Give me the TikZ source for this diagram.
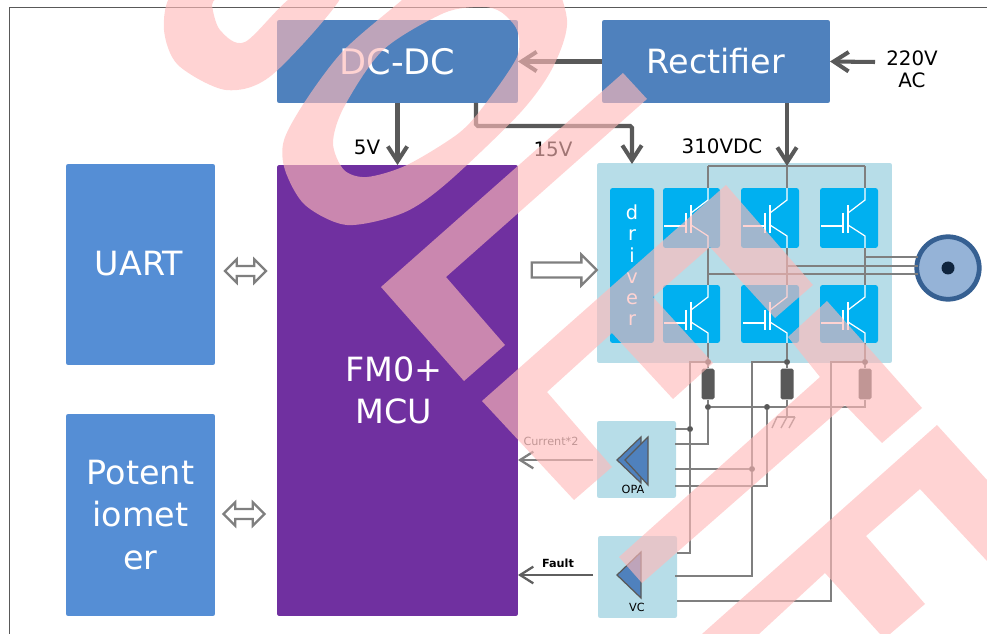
\documentclass[tikz,border=0pt]{standalone}
\usepackage{fontspec}
\setmainfont{DejaVu Sans}
\usepackage{tikz}
\usetikzlibrary{arrows.meta,calc,shapes,positioning}
\usepackage{xcolor}
\definecolor{Supply}{RGB}{79,129,189}
\definecolor{Periph}{RGB}{85,142,213}
\definecolor{Mcu}{RGB}{112,48,160}
\definecolor{Panel}{RGB}{183,221,232}
\definecolor{Tile}{RGB}{0,176,240}
\definecolor{Lead}{RGB}{89,89,89}
\definecolor{Wire}{RGB}{127,127,127}
\definecolor{MotorFill}{RGB}{149,179,215}
\definecolor{MotorRim}{RGB}{54,96,146}
\definecolor{MotorDot}{RGB}{15,36,62}
\definecolor{Overlay}{RGB}{255,186,185}
\tikzset{
  block/.style={rectangle,rounded corners=1.2pt,inner sep=0pt,outer sep=0pt,text=white,align=center,font=\fontsize{19}{24.2}\selectfont},
  tile/.style={rectangle,rounded corners=1.5pt,fill=Tile,inner sep=0pt,outer sep=0pt},
  lab/.style={inner sep=0pt,align=center,font=\fontsize{11.3}{12.6}\selectfont},
  tiny/.style={inner sep=0pt,font=\fontsize{6.4}{7}\selectfont},
  power/.style={draw=Lead,line width=2.3pt,-{Straight Barb[length=8.5pt,width=11pt,line width=2.3pt]}},
  signal/.style={draw=Wire,line width=1.2pt,-{Straight Barb[length=7.5pt,width=9.5pt,line width=1.3pt]}},
  wire/.style={draw=Wire,line width=0.8pt},
  jdot/.style={circle,fill=Lead,inner sep=0pt,minimum size=3.4pt},
  res/.style={rectangle,rounded corners=1pt,fill=Lead,inner sep=0pt,minimum width=0.26cm,minimum height=0.62cm},
  hollow/.style={draw=Wire,fill=white,line width=1.3pt},
  amp/.style={draw=Lead,fill=Supply,line width=0.7pt},
  cover/.style={fill=Overlay,fill opacity=0.63}
}
\newcommand{\igbt}[2]{
\begin{scope}[shift={(#1,#2)},draw=white,line width=0.7pt]
\draw (-44,38) -- (-22,38);
\draw (-22,25) -- (-22,45);
\draw (-17,17) -- (-17,45);
\draw (0,0) -- (0,12) -- (-17,25);
\draw (-17,37) -- (0,48) -- (0,60);
\end{scope}
}
\begin{document}
\begin{tikzpicture}[x=0.02cm,y=-0.02cm]
\useasboundingbox (0,0) rectangle (987,634);
\draw[color=Lead,line width=0.9pt] (9.5,634) -- (9.5,7.5) -- (987,7.5);
%
% supply row
\node[block,fill=Supply,minimum width=4.82cm,minimum height=1.66cm,font=\fontsize{20}{24.2}\selectfont] (dcdc) at (397.5,61.5) {DC-DC};
\node[block,fill=Supply,minimum width=4.56cm,minimum height=1.66cm] (rect) at (716,61.5) {Rectifier};
\node[block,fill=Periph,minimum width=2.98cm,minimum height=4.02cm] (uart) at (140.5,264.5) {};
\node[block] (uarttxt) at (139,263.5) {UART};
\node[block,fill=Periph,minimum width=2.98cm,minimum height=4.04cm] (pot) at (140.5,515) {Potent\\iomet\\er};
\node[block,fill=Mcu,minimum width=4.82cm,minimum height=9.02cm] (mcu) at (397.5,390.5) {};
\node[block] (mcutxt) at (394,390.5) {FM0+\\MCU};
%
% inverter
\node[block,fill=Panel,minimum width=5.9cm,minimum height=4cm] (inv) at (744.5,263) {};
\node[tile,minimum width=0.88cm,minimum height=3.1cm,text=white,align=center,font=\fontsize{11}{12.1}\selectfont] (drv) at (632,265.5) {d\\r\\i\\v\\e\\r};
\node[tile,minimum width=1.14cm,minimum height=1.2cm] (q1) at (691.5,218) {};
\node[tile,minimum width=1.16cm,minimum height=1.2cm] (q2) at (770,218) {};
\node[tile,minimum width=1.16cm,minimum height=1.2cm] (q3) at (849,218) {};
\node[tile,minimum width=1.14cm,minimum height=1.16cm] (q4) at (691.5,314) {};
\node[tile,minimum width=1.16cm,minimum height=1.16cm] (q5) at (770,314) {};
\node[tile,minimum width=1.16cm,minimum height=1.16cm] (q6) at (849,314) {};
\igbt{708}{188}
\igbt{787}{188}
\igbt{865}{188}
\igbt{708}{285}
\igbt{787}{285}
\igbt{865}{285}
%
\coordinate (bus1) at (708,166);
\coordinate (bus2) at (787,166);
\coordinate (bus3) at (865,166);
\coordinate (ph1) at (708,274);
\coordinate (ph2) at (787,266);
\coordinate (ph3) at (865,257);
\node[circle,draw=MotorRim,fill=MotorFill,line width=2.7pt,inner sep=0pt,minimum size=1.25cm] (motor) at (948,268) {};
\node[circle,fill=MotorDot,inner sep=0pt,minimum size=0.26cm] (rotor) at (948,268) {};
\draw[wire] (bus1) -- (bus3);
\draw[wire] (bus1) -- (bus1 |- q1.north);
\draw[wire] (bus2) -- (bus2 |- q2.north);
\draw[wire] (bus3) -- (bus3 |- q3.north);
\draw[wire] (bus1 |- q1.south) -- (bus1 |- q4.north);
\draw[wire] (bus2 |- q2.south) -- (bus2 |- q5.north);
\draw[wire] (bus3 |- q3.south) -- (bus3 |- q6.north);
\draw[wire,shorten >=-2pt] (ph1) -- (motor.west |- ph1);
\draw[wire,shorten >=-2pt] (ph2) -- (motor.west |- ph2);
\draw[wire,shorten >=-2pt] (ph3) -- (motor.west |- ph3);
%
% shunts
\node[jdot] (d1) at (708,362) {};
\node[jdot] (d2) at (787,362) {};
\node[jdot] (d3) at (865,362) {};
\node[res] (r1) at (708,384) {};
\node[res] (r2) at (787,384) {};
\node[res] (r3) at (865,384) {};
\node[jdot] (j1) at (690,429) {};
\node[jdot] (j2) at (752,469) {};
\node[jdot] (j3) at (708,407) {};
\node[jdot] (j4) at (767,407) {};
\coordinate (rail3) at (831,500);
\coordinate (gnd) at (787,417);
\draw[wire] (bus1 |- q4.south) -- (d1);
\draw[wire] (bus2 |- q5.south) -- (d2);
\draw[wire] (bus3 |- q6.south) -- (d3);
\draw[wire] (d1) -- (r1.north);
\draw[wire] (d2) -- (r2.north);
\draw[wire] (d3) -- (r3.north);
\draw[wire] (r1.south) -- (j3);
\draw[wire] (j3) -- (j4);
\draw[wire] (r3.south) |- (j4);
\draw[wire] (r2.south) -- (gnd);
\draw[wire] (777,417) -- (795,417);
\draw[wire] (777,417) -- (772,428);
\draw[wire] (787,417) -- (781,428);
\draw[wire] (795,417) -- (789,428);
%
% amplifier and comparator
\node[block,fill=Panel,minimum width=1.58cm,minimum height=1.54cm] (opa) at (636.5,459.5) {};
\node[block,fill=Panel,minimum width=1.58cm,minimum height=1.64cm] (vc) at (637.5,577) {};
\draw[amp] (617,460) -- (641,437) -- (641,483) -- cycle;
\draw[amp] (625,460) -- (648,437) -- (648,485) -- cycle;
\draw[amp] (617,575) -- (641,552) -- (641,598) -- cycle;
\node[tiny] (opalab) at (633,489) {OPA};
\node[tiny] (vclab) at (637,607) {VC};
\coordinate (opa1) at (675,429);
\coordinate (opa2) at (675,444);
\coordinate (opa3) at (675,469);
\coordinate (opa4) at (675,486);
\coordinate (vc1) at (677,553);
\coordinate (vc2) at (675,576);
\coordinate (vc3) at (677,601);
\draw[wire] (d1) -| (j1) |- (vc1);
\draw[wire] (d2) -| (j2) |- (vc2);
\draw[wire] (d3) -| (rail3) |- (vc3);
\draw[wire] (opa1) -- (j1);
\draw[wire] (opa3) -- (j2);
\draw[wire] (j3) |- (opa2);
\draw[wire] (j4) |- (opa4);
%
% arrows
\coordinate (dc15) at (476,103);
\coordinate (drvin) at (632,164);
\coordinate (acin) at (875,62);
\coordinate (dcbus) at (787,103);
\draw[power] (rect.west) -- (dcdc.east);
\draw[power] (acin) -- (rect.east);
\draw[power] (dcdc.south) -- (mcu.north);
\draw[power] (dcbus) -- (bus2);
\draw[power,rounded corners=1pt] (dc15) |- (476,126) -| (drvin);
\coordinate (opaout) at (593,460);
\coordinate (vcout) at (593,575);
\draw[signal] (opaout) -- (mcu.east |- opaout);
\draw[signal,line width=1.4pt,draw=Lead!85!Wire] (vcout) -- (mcu.east |- vcout);
\node[hollow,single arrow,single arrow head extend=4.5pt,inner sep=3.6pt,minimum height=1.3cm] (ctrl) at (560.5,270) {};
\node[hollow,double arrow,double arrow head extend=3.8pt,inner sep=2.2pt,minimum height=0.82cm] (urx) at (245.5,271) {};
\node[hollow,double arrow,double arrow head extend=3.8pt,inner sep=2.2pt,minimum height=0.82cm] (ptx) at (244,514) {};
%
% labels
\node[lab] (v5) at (367,147) {5V};
\node[lab] (v15) at (553,149) {15V};
\node[lab] (v310) at (722,146) {310VDC};
\node[lab] (vac) at (912,69) {220V\\AC};
\node[tiny,text=Lead] (cur) at (551,441) {Current*2};
\node[tiny] (flt) at (558,563) {\textbf{Fault}};
%
% overlay
\begin{scope}
\clip (0,0) rectangle (987,634);
\fill[cover] plot[smooth cycle] coordinates {(172,-5) (164,30) (178,65) (226,90) (272,75) (342,-5) (295,-5) (245,42) (220,30) (212,5) (216,-5)};
\fill[cover,even odd rule] plot[smooth cycle] coordinates {(402,0) (344,50) (306,100) (284,140) (285,170) (305,205) (347,225) (403,213) (447,183) (520,113) (553,67) (567,20) (545,-30) (480,-50) (430,-25)} plot[smooth cycle] coordinates {(482,7) (444,13) (383,50) (344,107) (333,143) (344,170) (367,177) (407,165) (459,133) (486,103) (517,57) (517,30) (501,12)};
\fill[cover] (623,73) -- (381,287) -- (464,381) -- (505,345) -- (446,277) -- (647,99) -- cycle;
\fill[cover] (482,401) -- (726,185) -- (813,285) -- (775,318) -- (710,247) -- (653,297) -- (713,363) -- (673,399) -- (612,333) -- (547,392) -- (612,467) -- (574,500) -- cycle;
\fill[cover] (827,301) -- (922,408) -- (882,443) -- (845,405) -- (642,583) -- (619,557) -- (820,377) -- (788,337) -- cycle;
\fill[cover] (937,425) -- (987,480) -- (987,561) -- (920,489) -- (866,536) -- (925,604) -- (890,634) -- (880,634) -- (825,573) -- (759,634) -- (702,634) -- cycle;
\end{scope}
\end{tikzpicture}
\end{document}
